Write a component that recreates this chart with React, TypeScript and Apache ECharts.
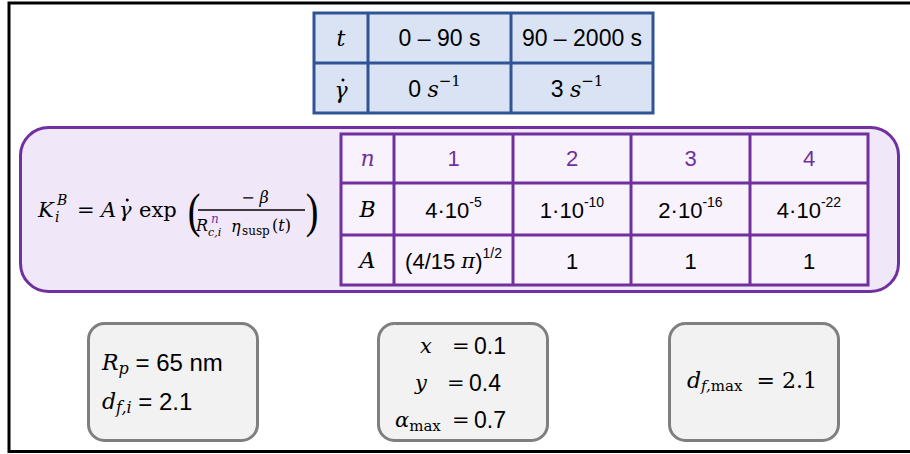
import React, { useEffect, useRef } from "react";
import * as echarts from "echarts";

// ---- data ----
const timeRanges = ["0 – 90 s", "90 – 2000 s"];
const shearRates = ["0", "3"];
const nValues = ["1", "2", "3", "4"];
const bMantissas = ["4", "1", "2", "4"];
const bExponents = ["-5", "-10", "-16", "-22"];
const aValues = ["(4/15 π)^1/2", "1", "1", "1"];
const particleRadius = "65 nm";
const dfInitial = "2.1";
const xyAlpha = ["0.1", "0.4", "0.7"];
const dfMax = "2.1";

// ---- style ----
const SANS = '"Liberation Sans", Arial, sans-serif';
const MATH = '"DejaVu Serif", serif';
const PAREN = '"Liberation Serif", serif';
const PURPLE = "#7030a0";
const BLUE = "#2f5597";
const f = (size: number, italic = false, fam = MATH) => `${italic ? "italic " : ""}${size}px ${fam}`;

let ctx: CanvasRenderingContext2D | null = null;
function tw(t: string, font: string) {
  if (!ctx) ctx = document.createElement("canvas").getContext("2d");
  ctx!.font = font;
  return ctx!.measureText(t).width;
}

type Piece = { t: string; f: string; dy?: number; c?: string; dx?: number; dot?: boolean };
function run(pieces: Piece[], x: number, y: number, align: "left" | "center" | "right" = "center"): any[] {
  const widths = pieces.map((p) => tw(p.t, p.f) + (p.dx || 0));
  const total = widths.reduce((a, b) => a + b, 0);
  let cx = align === "left" ? x : align === "center" ? x - total / 2 : x - total;
  const out: any[] = [];
  pieces.forEach((p, i) => {
    out.push({
      type: "text",
      x: cx + (p.dx || 0),
      y: y + (p.dy || 0),
      silent: true,
      style: { text: p.t, font: p.f, fill: p.c || "#000", align: "left", verticalAlign: "middle" },
    });
    if (p.dot) {
      out.push({
        type: "circle",
        silent: true,
        shape: { cx: cx + (p.dx || 0) + widths[i] / 2 + 2, cy: y + (p.dy || 0) - 10, r: 1.5 },
        style: { fill: p.c || "#000" },
      });
    }
    cx += widths[i];
  });
  return out;
}

function txt(t: string, x: number, y: number, font: string, fill = "#000", align = "left", extra: any = {}) {
  return { type: "text", x, y, silent: true, ...extra, style: { text: t, font, fill, align, verticalAlign: "middle" } };
}

function line(x1: number, y1: number, x2: number, y2: number, stroke: string, w: number) {
  return { type: "line", silent: true, shape: { x1, y1, x2, y2 }, style: { stroke, lineWidth: w } };
}

function buildGraphics(): any[] {
  const g: any[] = [];
  // outer black frame
  g.push({ type: "rect", silent: true, shape: { x: 9, y: 3, width: 1000, height: 448.5 }, style: { fill: "none", stroke: "#000", lineWidth: 3 } });

  // ---- top table ----
  const tc = [314, 368, 511, 653];
  const tr = [13, 63, 113];
  g.push({ type: "rect", silent: true, shape: { x: tc[0], y: tr[0], width: tc[3] - tc[0], height: tr[2] - tr[0] }, style: { fill: "#dae3f3", stroke: BLUE, lineWidth: 3 } });
  g.push(line(tc[1], tr[0], tc[1], tr[2], BLUE, 3));
  g.push(line(tc[2], tr[0], tc[2], tr[2], BLUE, 3));
  g.push(line(tc[0], tr[1], tc[3], tr[1], BLUE, 3));
  const r0 = (tr[0] + tr[1]) / 2;
  const r1 = (tr[1] + tr[2]) / 2;
  g.push(txt("t", (tc[0] + tc[1]) / 2, r0, f(22, true), "#000", "center"));
  g.push(...run([{ t: "γ", f: f(22, true), dot: true }], (tc[0] + tc[1]) / 2, r1 + 2));
  timeRanges.forEach((t, i) => {
    g.push(txt(t, (tc[i + 1] + tc[i + 2]) / 2, r0, f(23, false, SANS), "#000", "center"));
  });
  shearRates.forEach((s, i) => {
    g.push(
      ...run(
        [
          { t: s + " ", f: f(23, false, SANS) },
          { t: "s", f: f(22, true) },
          { t: "−1", f: f(15), dy: -8 },
        ],
        (tc[i + 1] + tc[i + 2]) / 2 - 5,
        r1 + 1
      )
    );
  });

  // ---- purple box ----
  g.push({ type: "rect", silent: true, shape: { x: 20.5, y: 127.5, width: 878, height: 164, r: 28 }, style: { fill: "#f0e7f8", stroke: PURPLE, lineWidth: 3 } });

  // formula
  const fy = 210;
  g.push(txt("K", 38, fy, f(21, true)));
  g.push(txt("B", 57, fy - 10, f(14, true)));
  g.push(txt("i", 55, fy + 7, f(14, true)));
  g.push(txt("=", 77, fy, f(21)));
  g.push(txt("A", 101, fy, f(21, true)));
  g.push(...run([{ t: "γ", f: f(21, true), dot: true }], 119, fy, "left"));
  g.push(txt("exp", 139, fy, f(21)));
  g.push(txt("(", 194, fy + 1, f(38, false, PAREN), "#000", "center", { scaleY: 1.3 }));
  g.push(line(198, 210, 305, 210, "#000", 1.6));
  g.push(...run([{ t: "− ", f: f(16) }, { t: "β", f: f(16, true) }], 255, 197));
  g.push(txt("R", 196, 225, f(16, true)));
  g.push(txt("n", 211, 219, f(12, true), PURPLE));
  g.push(txt("c,i", 208, 232, f(11, true)));
  g.push(txt("η", 231, 226, f(16, true)));
  g.push(txt("susp", 242, 231, f(12)));
  g.push(...run([{ t: "(", f: f(16) }, { t: "t", f: f(16, true) }, { t: ")", f: f(16) }], 272, 225, "left"));
  g.push(txt(")", 312, fy + 1, f(38, false, PAREN), "#000", "center", { scaleY: 1.3 }));

  // inner table
  const ic = [341, 394, 513, 631, 750, 868];
  const ir = [134, 183, 235, 285];
  g.push({ type: "rect", silent: true, shape: { x: ic[0], y: ir[0], width: ic[5] - ic[0], height: ir[3] - ir[0] }, style: { fill: "#f8f2fc", stroke: PURPLE, lineWidth: 3 } });
  for (let i = 1; i < 5; i++) g.push(line(ic[i], ir[0], ic[i], ir[3], PURPLE, 3));
  for (let j = 1; j < 3; j++) g.push(line(ic[0], ir[j], ic[5], ir[j], PURPLE, 3));
  const rc = [0, 1, 2].map((j) => (ir[j] + ir[j + 1]) / 2);
  const cc = [0, 1, 2, 3, 4].map((i) => (ic[i] + ic[i + 1]) / 2);
  g.push(txt("n", cc[0], rc[0], f(22, true), PURPLE, "center"));
  g.push(txt("B", cc[0], rc[1], f(22, true), "#000", "center"));
  g.push(txt("A", cc[0], rc[2], f(22, true), "#000", "center"));
  nValues.forEach((n, i) => g.push(txt(n, cc[i + 1], rc[0], f(22, false, SANS), PURPLE, "center")));
  bMantissas.forEach((m, i) => {
    g.push(
      ...run(
        [
          { t: m + "·10", f: f(22, false, SANS) },
          { t: bExponents[i], f: f(14, false, SANS), dy: -8 },
        ],
        cc[i + 1],
        rc[1] + 1
      )
    );
  });
  aValues.forEach((a, i) => {
    if (a.includes("^")) {
      const [base, exp] = a.split("^");
      const inner = base.replace("(", "").replace(")", "").replace(" π", "");
      g.push(
        ...run(
          [
            { t: "(" + inner + " ", f: f(22, false, SANS) },
            { t: "π", f: f(21, true) },
            { t: ")", f: f(22, false, SANS) },
            { t: exp, f: f(14, false, SANS), dy: -8 },
          ],
          cc[i + 1],
          rc[2] + 1
        )
      );
    } else {
      g.push(txt(a, cc[i + 1], rc[2] + 1, f(22, false, SANS), "#000", "center"));
    }
  });

  // ---- bottom boxes ----
  const boxStyle = { fill: "#f2f2f2", stroke: "#7f7f7f", lineWidth: 3 };
  [88.5, 378.5, 669.5].forEach((bx) => {
    g.push({ type: "rect", silent: true, shape: { x: bx, y: 323.5, width: 169, height: 117, r: 16 }, style: boxStyle });
  });
  // box 1
  g.push(...run([{ t: "R", f: f(22, true) }, { t: "p", f: f(16, true), dy: 6 }, { t: " = " + particleRadius, f: f(24, false, SANS) }], 102, 362, "left"));
  g.push(...run([{ t: "d", f: f(22, true) }, { t: "f,i", f: f(16, true), dy: 6 }, { t: " = " + dfInitial, f: f(24, false, SANS) }], 102, 401, "left"));
  // box 2
  const rowsY = [346, 383, 420];
  g.push(txt("x", 420, rowsY[0], f(21, true)));
  g.push(txt("y", 415, rowsY[1], f(21, true)));
  g.push(...run([{ t: "α", f: f(21, true) }, { t: "max", f: f(15), dy: 6 }], 395, rowsY[2], "left"));
  const eqX = [452, 447, 452];
  xyAlpha.forEach((v, i) => {
    g.push(txt("=", eqX[i], rowsY[i], f(21)));
    g.push(txt(v, eqX[i] + 22, rowsY[i], f(23, false, SANS)));
  });
  // box 3
  g.push(...run([{ t: "d", f: f(22, true) }, { t: "f,", f: f(15, true), dy: 6 }, { t: "max", f: f(15), dy: 6 }, { t: "  = " + dfMax, f: f(22) }], 687, 380, "left"));
  return g;
}

export default function App() {
  const ref = useRef<HTMLDivElement>(null);
  useEffect(() => {
    document.body.style.margin = "0";
    const chart = echarts.init(ref.current!, undefined, { renderer: "svg" });
    chart.setOption({
      animation: false,
      backgroundColor: "#ffffff",
      graphic: { elements: buildGraphics() },
    });
    return () => chart.dispose();
  }, []);
  return <div ref={ref} style={{ width: 910, height: 454 }} />;
}
